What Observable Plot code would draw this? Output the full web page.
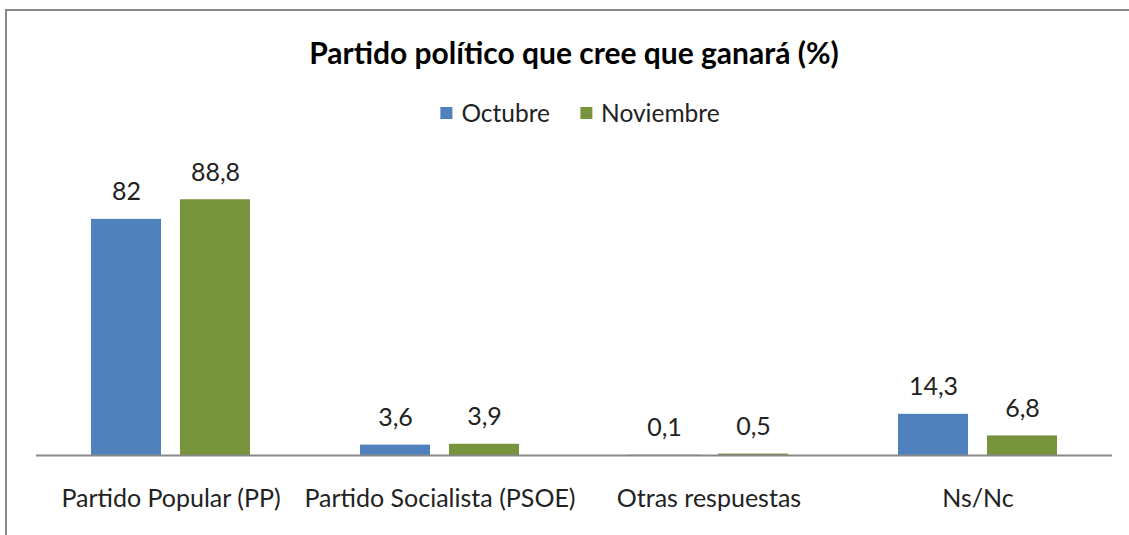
<!DOCTYPE html>
<html>
<head>
<meta charset="utf-8">
<script src="https://cdn.jsdelivr.net/npm/d3@7"></script>
<script src="https://cdn.jsdelivr.net/npm/@observablehq/plot@0.6"></script>
<style>
  html, body { margin: 0; padding: 0; background: #fff; overflow: hidden; width: 1129px; height: 535px; }
  body { position: relative; font-family: Lato, "Open Sans", sans-serif; }
  #frame { position: absolute; left: 5px; top: 9px; width: 2000px; height: 2000px;
           border-top: 2px solid #888; border-left: 2px solid #888; }
  #title { position: absolute; top: 34px; left: 574px; transform: translateX(-50%);
           white-space: nowrap; font-weight: bold; font-size: 30px; line-height: 36px; color: #000; }
  #legend { position: absolute; top: 98px; left: 580px; transform: translateX(-50%);
            display: flex; align-items: center; white-space: nowrap; font-size: 24.5px; line-height: 30px; color: #222; }
  .sw { display: inline-block; width: 12px; height: 12px; margin-right: 9px; }
  .item { display: flex; align-items: center; margin: 0 15px; }
  #chart { position: absolute; top: 150px; left: 0; }
</style>
</head>
<body>
<div id="frame"></div>
<div id="title">Partido político que cree que ganará (%)</div>
<div id="legend"></div>
<div id="chart"></div>
<script>
const categories = ["Partido Popular (PP)", "Partido Socialista (PSOE)", "Otras respuestas", "Ns/Nc"];
const series = ["Octubre", "Noviembre"];
const octubre = [82, 3.6, 0.1, 14.3];
const noviembre = [88.8, 3.9, 0.5, 6.8];
const colors = ["#4F81BD", "#77933C"];

const data = [];
categories.forEach((c, i) => {
  data.push({cat: c, serie: series[0], value: octubre[i]});
  data.push({cat: c, serie: series[1], value: noviembre[i]});
});
const fmt = v => String(v).replace(".", ",");

const legend = document.getElementById("legend");
series.forEach((s, i) => {
  const it = document.createElement("div");
  it.className = "item";
  it.innerHTML = `<span class="sw" style="background:${colors[i]}"></span><span>${s}</span>`;
  legend.appendChild(it);
});

const chart = Plot.plot({
  width: 1129,
  height: 385,
  marginLeft: 35,
  marginRight: 16,
  marginTop: 17,
  marginBottom: 80,
  style: {fontFamily: "Lato, 'Open Sans', sans-serif", fontSize: "25px", color: "#222", background: "transparent"},
  fx: {domain: categories, padding: 0, label: null},
  x: {domain: series, paddingInner: 0.211, paddingOuter: 0.603, axis: null},
  y: {domain: [0, 100], axis: null},
  color: {domain: series, range: colors},
  marks: [
    Plot.barY(data, {fx: "cat", x: "serie", y: "value", fill: "serie"}),
    Plot.text(data, {fx: "cat", x: "serie", y: "value", text: d => fmt(d.value),
      lineAnchor: "middle", dy: -27, fontSize: 25, fill: "#222"}),
    Plot.ruleY([0], {stroke: "#888", strokeWidth: 2}),
    Plot.axisFx({anchor: "bottom", tickSize: 0, tickPadding: 34, fontSize: 25, label: null, fill: "#222"})
  ]
});
document.getElementById("chart").appendChild(chart);
</script>
</body>
</html>
